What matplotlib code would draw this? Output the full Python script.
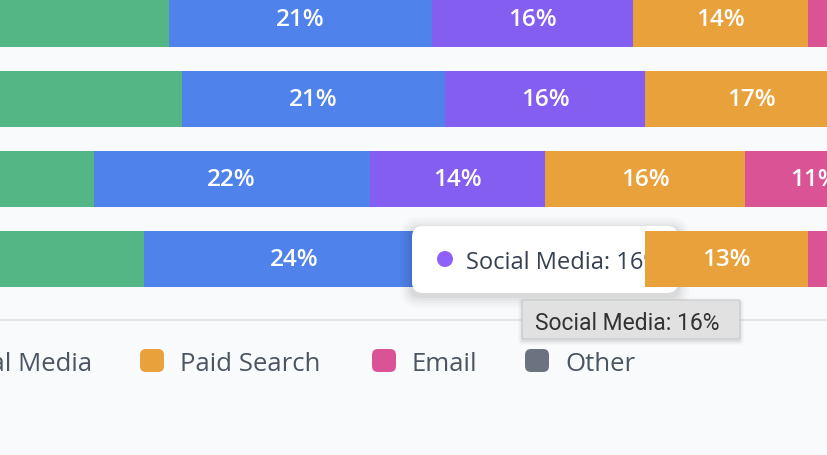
import matplotlib
matplotlib.use("Agg")
import matplotlib.pyplot as plt
from matplotlib.patches import FancyBboxPatch, Circle
from matplotlib import transforms
import numpy as np

# ---------------- data ----------------
categories = ["Campaign A", "Campaign B", "Campaign C", "Campaign D"]
series = ["Organic", "Direct", "Social Media", "Paid Search", "Email", "Other"]
organic = [34, 35, 28, 32]
direct = [21, 21, 22, 24]
social = [16, 16, 14, 16]
paid = [14, 17, 16, 13]
email = [9, 7, 11, 10]
other = [6, 4, 9, 5]
colors = ["#55b685", "#4f82ea", "#845ef0", "#e9a13b", "#da5495", "#6b7280"]
hover_series = 2
hover_row = 3

values = [organic, direct, social, paid, email, other]

W, H, DPI = 828, 456, 100
BG = "#f9fafc"
plt.rcParams['font.family'] = ['Open Sans', 'DejaVu Sans']

fig = plt.figure(figsize=(W / DPI, H / DPI), dpi=DPI, facecolor=BG)
ax = fig.add_axes([0, 0, 1, 1])
ax.set_facecolor(BG)
ax.set_axis_off()

# pixel transform (x from left, y from top)
px = transforms.Affine2D().scale(1 / DPI, -1 / DPI).translate(0, H / DPI) + fig.dpi_scale_trans

y = np.arange(len(categories))
left = np.zeros(len(categories))
for i, (name, vals) in enumerate(zip(series, values)):
    z = 2 if i <= hover_series else 4
    ax.barh(y, vals, left=left, height=0.7, color=colors[i], zorder=z, linewidth=0)
    for r, v in enumerate(vals):
        ax.text(left[r] + v / 2, y[r], f"{v}%", ha="center", va="center",
                color="white", fontsize=17.5, fontweight="semibold", zorder=z + 0.5,
                clip_on=True)
    left = left + np.array(vals)

ax.set_xlim(20.51, 86.59)
ax.set_ylim(5.45, -0.25)

# axis baseline
ax.axhline(3.7625, color="#e3e5e9", lw=1.5, zorder=1)

# ---------------- legend ----------------
fig.canvas.draw()
renderer = fig.canvas.get_renderer()
leg_marker_x = [None, None, None, 140, 372, 525]
leg_y = 361.5
leg_fs = 18.5
social_text_end = 92
for i, name in enumerate(series):
    mx = leg_marker_x[i]
    if mx is None:
        continue
    ax.add_patch(FancyBboxPatch((mx, leg_y - 11.5), 24, 23,
                                boxstyle="round,pad=0,rounding_size=6",
                                transform=px, facecolor=colors[i], edgecolor="none",
                                zorder=5, clip_on=False))
    ax.text(mx + 40, leg_y, name, transform=px, ha="left", va="center_baseline",
            fontsize=leg_fs, color="#4b5563", zorder=5, clip_on=False)
# items left of the visible area, laid out right-to-left from the cut edge
end_x = social_text_end
for i in range(2, -1, -1):
    t = ax.text(end_x, leg_y, series[i], transform=px, ha="right", va="center_baseline",
                fontsize=leg_fs, color="#4b5563", zorder=5, clip_on=False)
    wpx = t.get_window_extent(renderer).width
    mx = end_x - wpx - 40
    ax.add_patch(FancyBboxPatch((mx, leg_y - 11.5), 24, 23,
                                boxstyle="round,pad=0,rounding_size=6",
                                transform=px, facecolor=colors[i], edgecolor="none",
                                zorder=5, clip_on=False))
    end_x = mx - 48

# ---------------- hover tooltip ----------------
tip_label = f"{series[hover_series]}: {values[hover_series][hover_row]}%"
tx0, ty0, tw, th = 412, 227, 266, 67
for k, a in enumerate([0.035, 0.03, 0.025, 0.02, 0.015]):
    ax.add_patch(FancyBboxPatch((tx0, ty0 + 3), tw, th,
                                boxstyle=f"round,pad={2 + 2.5 * k},rounding_size={10 + 2.5 * k}",
                                transform=px, facecolor="black", alpha=a,
                                edgecolor="none", zorder=3))
ax.add_patch(FancyBboxPatch((tx0, ty0), tw, th, boxstyle="round,pad=0,rounding_size=11",
                            transform=px, facecolor="white", edgecolor="none", zorder=3.2))
ax.add_patch(Circle((445, 260), 8, transform=px, facecolor="#9061f9",
                    edgecolor="none", zorder=3.3))
ax.text(466, 260, tip_label, transform=px, ha="left", va="center_baseline",
        fontsize=17, color="#374151", zorder=3.3)

# ---------------- native title tooltip ----------------
bx0, by0, bw, bh = 522, 301, 218, 39
for k, a in enumerate([0.05, 0.035, 0.02]):
    ax.add_patch(FancyBboxPatch((bx0, by0 + 2), bw, bh,
                                boxstyle=f"round,pad={1 + 1.5 * k},rounding_size={2 + 1.5 * k}",
                                transform=px, facecolor="black", alpha=a,
                                edgecolor="none", zorder=6))
ax.add_patch(FancyBboxPatch((bx0, by0), bw, bh, boxstyle="round,pad=0,rounding_size=2",
                            transform=px, facecolor="#e1e1e1", edgecolor="#c9c9c9",
                            lw=0.8, zorder=6.2))
ax.text(535, by0 + bh / 2, tip_label, transform=px, ha="left", va="center_baseline",
        fontsize=16.5, color="#333333", zorder=6.3, family=["Roboto", "DejaVu Sans"])

fig.savefig("out.png", dpi=DPI, facecolor=BG)
